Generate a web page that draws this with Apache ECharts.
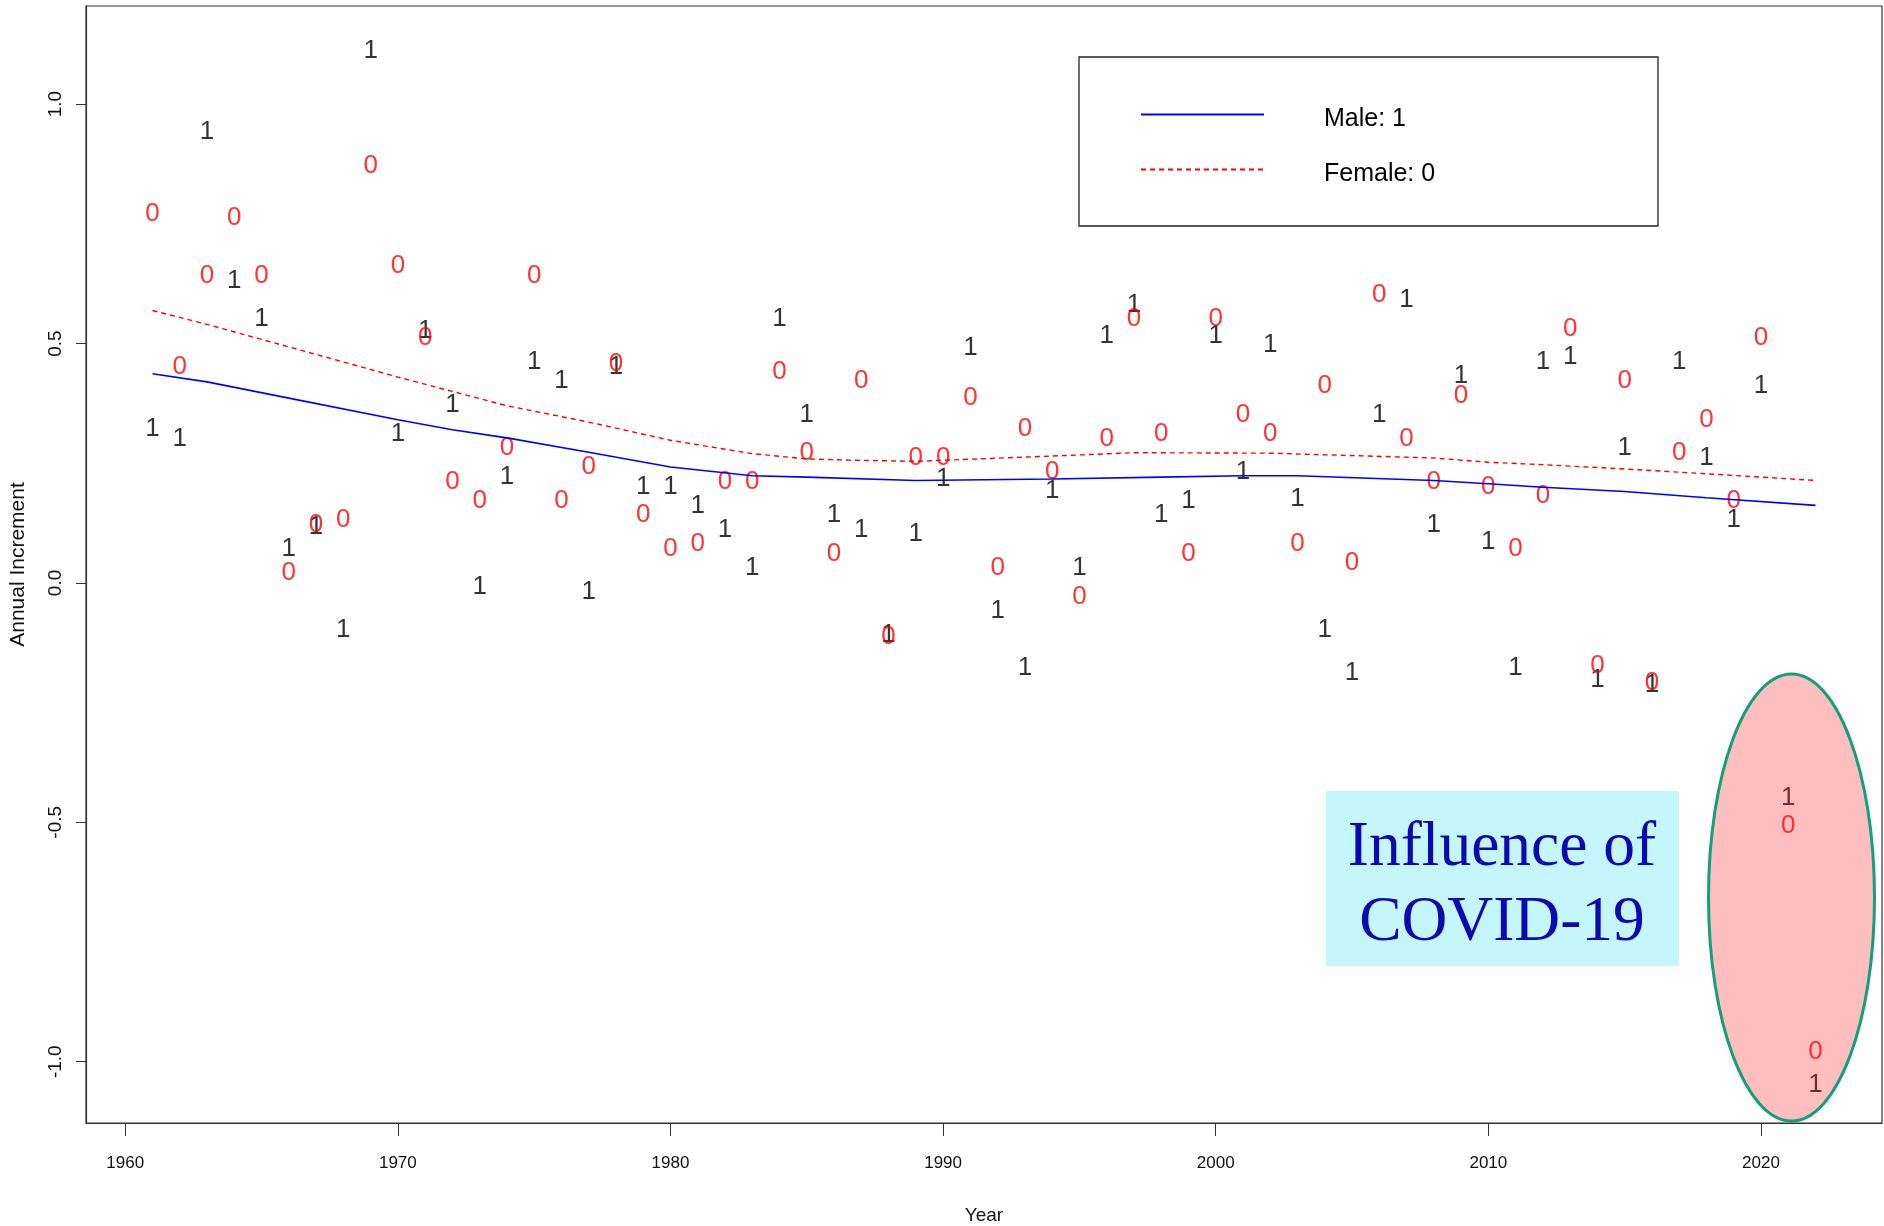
<!DOCTYPE html>
<html>
<head>
<meta charset="utf-8">
<script src="https://cdn.jsdelivr.net/npm/echarts@6/dist/echarts.min.js"></script>
<style>
html,body{margin:0;padding:0;background:#fff;}
#chart{width:1884px;height:1226px;}
</style>
</head>
<body>
<div id="chart"></div>
<script>
const years = [1961,1962,1963,1964,1965,1966,1967,1968,1969,1970,
  1971,1972,1973,1974,1975,1976,1977,1978,1979,1980,
  1981,1982,1983,1984,1985,1986,1987,1988,1989,1990,
  1991,1992,1993,1994,1995,1996,1997,1998,1999,2000,
  2001,2002,2003,2004,2005,2006,2007,2008,2009,2010,
  2011,2012,2013,2014,2015,2016,2017,2018,2019,2020,
  2021,2022];
const maleValues = [0.33,0.31,0.95,0.64,0.56,0.08,0.125,-0.09,1.12,0.32,
  0.535,0.38,0.00,0.23,0.47,0.43,-0.01,0.46,0.21,0.21,
  0.17,0.12,0.04,0.56,0.36,0.15,0.12,-0.10,0.11,0.225,
  0.50,-0.05,-0.17,0.20,0.04,0.525,0.59,0.15,0.18,0.525,
  0.24,0.505,0.185,-0.09,-0.18,0.36,0.60,0.13,0.44,0.095,
  -0.17,0.47,0.48,-0.195,0.29,-0.205,0.47,0.27,0.14,0.42,
  -0.44,-1.04];
const femaleValues = [0.78,0.46,0.65,0.77,0.65,0.03,0.13,0.14,0.88,0.67,
  0.52,0.22,0.18,0.29,0.65,0.18,0.25,0.465,0.15,0.08,
  0.09,0.22,0.22,0.45,0.28,0.07,0.43,-0.105,0.27,0.27,
  0.395,0.04,0.33,0.24,-0.02,0.31,0.56,0.32,0.07,0.56,
  0.36,0.32,0.09,0.42,0.05,0.61,0.31,0.22,0.40,0.21,
  0.08,0.19,0.54,-0.165,0.43,-0.20,0.28,0.35,0.18,0.52,
  -0.50,-0.97];
const maleSmoothYears = [1961,1963,1966,1970,1972,1974,1977,1980,1983,1985,1989,1994,1998,2001,2003,2008,2010,2012,2015,2018,2022];
const maleSmooth = [0.437,0.42,0.386,0.341,0.32,0.303,0.273,0.242,0.224,0.221,0.214,0.217,0.221,0.224,0.224,0.214,0.207,0.200,0.191,0.178,0.162];
const femaleSmoothYears = [1961,1963,1966,1970,1972,1974,1977,1980,1983,1985,1987,1989,1994,1997,2002,2008,2010,2012,2015,2018,2022];
const femaleSmooth = [0.569,0.54,0.493,0.43,0.40,0.37,0.336,0.298,0.27,0.259,0.256,0.254,0.265,0.272,0.271,0.261,0.252,0.247,0.238,0.228,0.214];
const xTicks = [1960,1970,1980,1990,2000,2010,2020];
const yTicks = [-1.0,-0.5,0.0,0.5,1.0];
const maleLabel = 'Male: 1';
const femaleLabel = 'Female: 0';
const noteLines = ['Influence of', 'COVID-19'];

const NARROW = "'Liberation Sans Narrow','Arial Narrow','Liberation Sans',Arial,sans-serif";
const REG = "'Liberation Sans',Arial,sans-serif";

const chart = echarts.init(document.getElementById('chart'), null, {renderer:'canvas'});

function pairs(xs, ys){ return xs.map((x,i)=>[x, ys[i]]); }

const option = {
  animation:false,
  backgroundColor:'#fff',
  grid:{left:86, right:2, top:6, bottom:103, show:true, borderColor:'#333', borderWidth:1.2,
    containLabel:false, outerBoundsMode:'none'},
  xAxis:{
    type:'value', min:1958.56, max:2024.44,
    splitLine:{show:false},
    axisLine:{show:true, onZero:false, lineStyle:{color:'#333', width:1.2}},
    axisTick:{show:true, customValues:xTicks, length:13, lineStyle:{color:'#333'}},
    axisLabel:{customValues:xTicks, margin:32, fontSize:17, fontFamily:NARROW, color:'#111',
      formatter:(v)=>String(v)},
    name:'Year', nameLocation:'middle', nameGap:83,
    nameTextStyle:{fontSize:19, fontFamily:NARROW, color:'#111'}
  },
  yAxis:{
    type:'value', min:-1.128, max:1.205,
    splitLine:{show:false},
    axisLine:{show:true, onZero:false, lineStyle:{color:'#333', width:1.2}},
    axisTick:{show:true, customValues:yTicks, length:10, lineStyle:{color:'#333'}},
    axisLabel:{customValues:yTicks, rotate:90, margin:21, fontSize:19, fontFamily:REG, color:'#111',
      formatter:(v)=>v.toFixed(1)},
    name:'Annual Increment', nameLocation:'middle', nameRotate:90, nameGap:57,
    nameTextStyle:{fontSize:21, fontFamily:REG, color:'#111'}
  },
  legend:{
    data:[maleLabel, femaleLabel],
    orient:'vertical', left:1140, top:97, padding:0,
    itemWidth:123, itemHeight:14, itemGap:20,
    selectedMode:false,
    formatter:(name)=>'\n' + name,
    itemStyle:{color:'rgba(0,0,0,0)', borderWidth:0},
    textStyle:{fontSize:25, lineHeight:10, fontFamily:NARROW, color:'#000', padding:[0,0,0,55]}
  },
  series:[
    {
      name:'male points', type:'scatter', silent:true, z:3,
      data:pairs(years, maleValues),
      symbolSize:1, itemStyle:{color:'rgba(0,0,0,0)'},
      label:{show:true, position:'inside', offset:[0,4], formatter:'1', color:'#000', fontSize:26, fontFamily:NARROW},
      emphasis:{disabled:true}
    },
    {
      name:'female points', type:'scatter', silent:true, z:3,
      data:pairs(years, femaleValues),
      symbolSize:1, itemStyle:{color:'rgba(0,0,0,0)'},
      label:{show:true, position:'inside', offset:[0,4], formatter:'0', color:'#FF0000', fontSize:26, fontFamily:NARROW},
      emphasis:{disabled:true}
    },
    {
      name:maleLabel, type:'line', silent:true, symbol:'none', z:4,
      data:pairs(maleSmoothYears, maleSmooth),
      lineStyle:{color:'#0000FF', width:1.6, type:'solid'},
      itemStyle:{color:'#0000FF'}
    },
    {
      name:femaleLabel, type:'line', silent:true, symbol:'none', z:4,
      data:pairs(femaleSmoothYears, femaleSmooth),
      lineStyle:{color:'#FF0000', width:1.4, type:[5,4]},
      itemStyle:{color:'#FF0000'}
    }
  ],
  graphic:[
    {type:'rect', shape:{x:1079, y:57, width:579, height:169},
      style:{fill:'none', stroke:'#222', lineWidth:1.3}, z:10, silent:true},
    {type:'rect', shape:{x:1326, y:791, width:353, height:175},
      style:{fill:'#C4F6FC'}, z:10, silent:true},
    {type:'text', x:1502, y:848, z:11, silent:true,
      style:{text:noteLines[0], fill:'#0A0AB0', font:"63.5px 'Liberation Serif','Times New Roman',serif",
        align:'center', verticalAlign:'middle'}},
    {type:'text', x:1502, y:923, z:11, silent:true,
      style:{text:noteLines[1], fill:'#0A0AB0', font:"63.5px 'Liberation Serif','Times New Roman',serif",
        align:'center', verticalAlign:'middle'}},
    {type:'ellipse', shape:{cx:1791.5, cy:897.5, rx:83, ry:223.5},
      style:{fill:'rgba(245,40,40,0.3)', stroke:'#12A07A', lineWidth:3}, z:20, silent:true}
  ]
};
chart.setOption(option);
</script>
</body>
</html>
